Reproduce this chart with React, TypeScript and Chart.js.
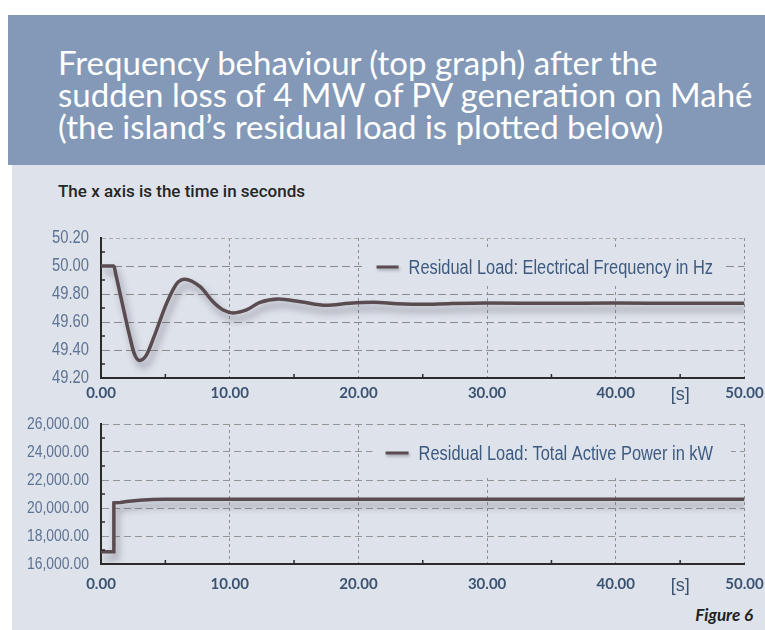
import React, { useEffect, useRef } from 'react';
import { Chart, registerables } from 'chart.js';

Chart.register(...registerables);

// ---------- data ----------
const freqTime = [0, 1.0, 1.15, 1.6, 2.2, 2.6, 3.0, 3.5, 4.1, 5.1, 5.9, 6.5, 7.7, 8.7, 9.5, 10.3, 11.3, 12.3, 13.8, 15.5, 17.5, 19.3, 21.2, 23, 25, 27, 30, 35, 40, 45, 50];
const freqHz = [50.0, 50.0, 49.94, 49.755, 49.51, 49.37, 49.325, 49.36, 49.49, 49.734, 49.876, 49.906, 49.852, 49.745, 49.686, 49.665, 49.686, 49.738, 49.764, 49.745, 49.719, 49.734, 49.741, 49.731, 49.726, 49.731, 49.735, 49.734, 49.735, 49.734, 49.734];

const powerTime = [0, 0.97, 1.0, 1.5, 2.0, 3.0, 4.0, 5.0, 8, 12, 16, 20, 25, 30, 35, 40, 45, 50];
const powerKW = [16880, 16880, 20370, 20400, 20470, 20560, 20610, 20630, 20620, 20630, 20620, 20625, 20620, 20620, 20620, 20620, 20620, 20620];

const timeTickValues = [0, 10, 20, 30, 40, 50];
const unitTickValue = 45;
const unitTickLabel = '[s]';

const freqLabel = 'Residual Load: Electrical Frequency in Hz';
const powerLabel = 'Residual Load: Total Active Power in kW';

const titleLines = [
  'Frequency behaviour (top graph) after the',
  'sudden loss of 4 MW of PV generation on Mahé',
  '(the island\u2019s residual load is plotted below)',
];
const subtitle = 'The x axis is the time in seconds';
const caption = 'Figure 6';

// ---------- styles ----------
const HEADER_BG = '#8399b7';
const PANEL_BG = '#dee2ea';
const LINE_COLOR = '#5a4b51';
const AXIS_COLOR = '#2b2b2b';
const ARIAL = "'Liberation Sans', Arial, sans-serif";
const NARROW_STRETCH = 0.82;
const TRANSPARENT = 'rgba(0,0,0,0)';

const fmt2 = (v: number) =>
  Number(v).toLocaleString('en-US', { minimumFractionDigits: 2, maximumFractionDigits: 2 });

const shadowPlugin = {
  id: 'lineShadow',
  beforeDatasetsDraw(chart: any) {
    const ctx = chart.ctx;
    ctx.save();
    ctx.shadowColor = 'rgba(55,55,70,0.45)';
    ctx.shadowBlur = 7;
    ctx.shadowOffsetX = 3;
    ctx.shadowOffsetY = 6;
  },
  afterDatasetsDraw(chart: any) {
    chart.ctx.restore();
  },
};

// y tick labels drawn in a narrow (horizontally condensed) face, plus small inner tick marks
const narrowYTicksPlugin = {
  id: 'narrowYTicks',
  afterDraw(chart: any, _args: any, opts: any) {
    const s = chart.scales.y;
    const xs = chart.scales.x;
    const ctx = chart.ctx;
    const area = chart.chartArea;
    ctx.save();
    ctx.strokeStyle = AXIS_COLOR;
    ctx.lineWidth = 1.5;
    ctx.beginPath();
    const ys = s.ticks.map((t: any) => t.value);
    for (let i = 0; i < ys.length - 1; i++) {
      const mid = s.getPixelForValue((ys[i] + ys[i + 1]) / 2);
      ctx.moveTo(area.left, mid);
      ctx.lineTo(area.left + 4, mid);
    }
    for (const t of xs.ticks) {
      if (timeTickValues.includes(t.value)) continue;
      const px = xs.getPixelForValue(t.value);
      ctx.moveTo(px, area.bottom);
      ctx.lineTo(px, area.bottom - 4);
    }
    ctx.stroke();
    ctx.font = `${opts.size}px ${ARIAL}`;
    ctx.fillStyle = opts.color;
    ctx.textAlign = 'right';
    ctx.textBaseline = 'middle';
    for (const t of s.ticks) {
      const y = s.getPixelForValue(t.value);
      ctx.save();
      ctx.translate(s.right - opts.padding, y + opts.dy);
      ctx.scale(NARROW_STRETCH, 1);
      ctx.fillText(fmt2(t.value), 0, 0);
      ctx.restore();
    }
    ctx.restore();
  },
};

const insideLegendPlugin = {
  id: 'insideLegend',
  afterDraw(chart: any, _args: any, opts: any) {
    const { ctx, chartArea } = chart;
    const ds = chart.data.datasets[0];
    const cy = chart.scales.y.getPixelForValue(opts.value) + opts.dy;
    ctx.save();
    ctx.font = `${opts.size}px ${ARIAL}`;
    const textW = ctx.measureText(ds.label).width * NARROW_STRETCH;
    const right = chartArea.right - opts.rightGap;
    const textX = right - textW;
    const sampleEnd = textX - opts.gap;
    const sampleStart = sampleEnd - opts.sampleLen;
    const boxL = sampleStart - opts.padL;
    const boxR = right + opts.padR;
    ctx.fillStyle = PANEL_BG;
    ctx.fillRect(boxL, cy - opts.halfH, boxR - boxL, opts.halfH * 2);
    ctx.save();
    ctx.shadowColor = 'rgba(55,55,70,0.35)';
    ctx.shadowBlur = 3;
    ctx.shadowOffsetX = 1;
    ctx.shadowOffsetY = 2;
    ctx.strokeStyle = ds.borderColor;
    ctx.lineWidth = 3;
    ctx.beginPath();
    ctx.moveTo(sampleStart, cy);
    ctx.lineTo(sampleEnd, cy);
    ctx.stroke();
    ctx.restore();
    ctx.fillStyle = opts.color;
    ctx.textBaseline = 'middle';
    ctx.textAlign = 'left';
    ctx.translate(textX, cy + 1);
    ctx.scale(NARROW_STRETCH, 1);
    ctx.fillText(ds.label, 0, 0);
    ctx.restore();
  },
};

function xScale(height: number, pad: number) {
  return {
    type: 'linear',
    min: 0,
    max: 50,
    afterFit: (s: any) => {
      s.height = height;
      s.paddingLeft = 0;
      s.paddingRight = 0;
    },
    ticks: {
      stepSize: 5,
      autoSkip: false,
      maxRotation: 0,
      padding: pad,
      callback: (v: any) => {
        const n = Number(v);
        if (timeTickValues.includes(n)) return n.toFixed(2);
        if (n === unitTickValue) return unitTickLabel;
        return '';
      },
      font: (c: any) =>
        c.tick && c.tick.value === unitTickValue
          ? { family: ARIAL, size: 18, weight: 'normal' }
          : { family: 'Lato, sans-serif', size: 15, weight: 'bold' },
      color: '#3b5373',
    },
    grid: {
      drawTicks: false,
      lineWidth: 1,
      color: (c: any) =>
        c.tick && timeTickValues.includes(c.tick.value) && c.tick.value > 0 ? '#8f8f8f' : TRANSPARENT,
    },
    border: { display: true, color: AXIS_COLOR, width: 2, dash: [3, 3] },
  };
}

function buildFreqConfig(): any {
  return {
    type: 'line',
    data: {
      datasets: [
        {
          label: freqLabel,
          data: freqTime.map((t, i) => ({ x: t, y: freqHz[i] })),
          borderColor: LINE_COLOR,
          borderWidth: 3.5,
          pointRadius: 0,
          cubicInterpolationMode: 'monotone',
          tension: 0.4,
          fill: false,
        },
      ],
    },
    options: {
      responsive: false,
      animation: false,
      layout: { padding: { left: 0, right: 20.5, top: 16, bottom: 0 } },
      plugins: {
        legend: { display: false },
        tooltip: { enabled: false },
        narrowYTicks: { size: 18, color: '#5d7394', padding: 12, dy: 0 },
        insideLegend: {
          value: 50.0,
          dy: 1,
          size: 20,
          color: '#3d5a80',
          rightGap: 31.5,
          gap: 10,
          sampleLen: 22,
          padL: 14,
          padR: 9,
          halfH: 18,
        },
      },
      scales: {
        x: xScale(32, 6),
        y: {
          type: 'linear',
          min: 49.2,
          max: 50.2,
          afterFit: (s: any) => {
            s.width = 101;
          },
          ticks: { stepSize: 0.2, display: false },
          grid: {
            drawTicks: false,
            lineWidth: 1,
            color: (c: any) => {
              if (!c.tick) return TRANSPARENT;
              if (c.tick.value < 49.21) return TRANSPARENT;
              if (c.tick.value > 50.19) return '#a9a9a9';
              return '#8b8b8b';
            },
          },
          border: {
            display: true,
            color: AXIS_COLOR,
            width: 2,
            dash: (c: any) => (c.tick && c.tick.value > 50.19 ? [4, 3] : [8, 4]),
          },
        },
      },
    },
    plugins: [shadowPlugin, narrowYTicksPlugin, insideLegendPlugin],
  };
}

function buildPowerConfig(): any {
  return {
    type: 'line',
    data: {
      datasets: [
        {
          label: powerLabel,
          data: powerTime.map((t, i) => ({ x: t, y: powerKW[i] })),
          borderColor: LINE_COLOR,
          borderWidth: 3.5,
          pointRadius: 0,
          tension: 0,
          fill: false,
        },
      ],
    },
    options: {
      responsive: false,
      animation: false,
      layout: { padding: { left: 0, right: 20.5, top: 14, bottom: 0 } },
      plugins: {
        legend: { display: false },
        tooltip: { enabled: false },
        narrowYTicks: { size: 17, color: '#5d7394', padding: 12, dy: 0 },
        insideLegend: {
          value: 24000,
          dy: 1,
          size: 20,
          color: '#3d5a80',
          rightGap: 31.5,
          gap: 10,
          sampleLen: 23,
          padL: 13,
          padR: 18,
          halfH: 24,
        },
      },
      scales: {
        x: xScale(36, 11),
        y: {
          type: 'linear',
          min: 16000,
          max: 26000,
          afterFit: (s: any) => {
            s.width = 101;
          },
          ticks: { stepSize: 2000, display: false },
          grid: {
            drawTicks: false,
            lineWidth: 1,
            color: (c: any) => (c.tick && c.tick.value > 16000 ? '#959595' : TRANSPARENT),
          },
          border: { display: true, color: AXIS_COLOR, width: 2, dash: [7, 4] },
        },
      },
    },
    plugins: [shadowPlugin, narrowYTicksPlugin, insideLegendPlugin],
  };
}

function ChartCanvas({ build, top, height }: { build: () => any; top: number; height: number }) {
  const ref = useRef<HTMLCanvasElement | null>(null);
  useEffect(() => {
    if (!ref.current) return;
    const chart = new Chart(ref.current, build());
    return () => chart.destroy();
  }, [build]);
  return (
    <canvas
      ref={ref}
      width={765}
      height={height}
      style={{ position: 'absolute', left: 0, top, width: 765, height, display: 'block' }}
    />
  );
}

export default function App() {
  return (
    <div
      style={{
        position: 'absolute',
        left: 0,
        top: 0,
        width: 765,
        height: 630,
        background: '#ffffff',
        overflow: 'hidden',
      }}
    >
      <div
        style={{ position: 'absolute', left: 8, top: 15, width: 757, height: 150, background: HEADER_BG }}
      />
      <div
        style={{ position: 'absolute', left: 12, top: 165, width: 753, height: 465, background: PANEL_BG }}
      />
      <div
        style={{
          position: 'absolute',
          left: 58,
          top: 46,
          color: '#ffffff',
          fontFamily: 'Lato, sans-serif',
          fontSize: 33,
          lineHeight: '32px',
          whiteSpace: 'nowrap',
        }}
      >
        {titleLines.map((l, i) => (
          <div key={i}>{l}</div>
        ))}
      </div>
      <div
        style={{
          position: 'absolute',
          left: 58,
          top: 181,
          color: '#262626',
          fontFamily: 'Roboto, sans-serif',
          fontWeight: 500,
          fontSize: 17,
          lineHeight: '20px',
          whiteSpace: 'nowrap',
        }}
      >
        {subtitle}
      </div>
      <ChartCanvas build={buildFreqConfig} top={222} height={188} />
      <ChartCanvas build={buildPowerConfig} top={410} height={190} />
      <div
        style={{
          position: 'absolute',
          right: 12,
          top: 605,
          color: '#222222',
          fontFamily: 'Lato, sans-serif',
          fontWeight: 700,
          fontStyle: 'italic',
          fontSize: 17,
          lineHeight: '20px',
          whiteSpace: 'nowrap',
        }}
      >
        {caption}
      </div>
    </div>
  );
}
